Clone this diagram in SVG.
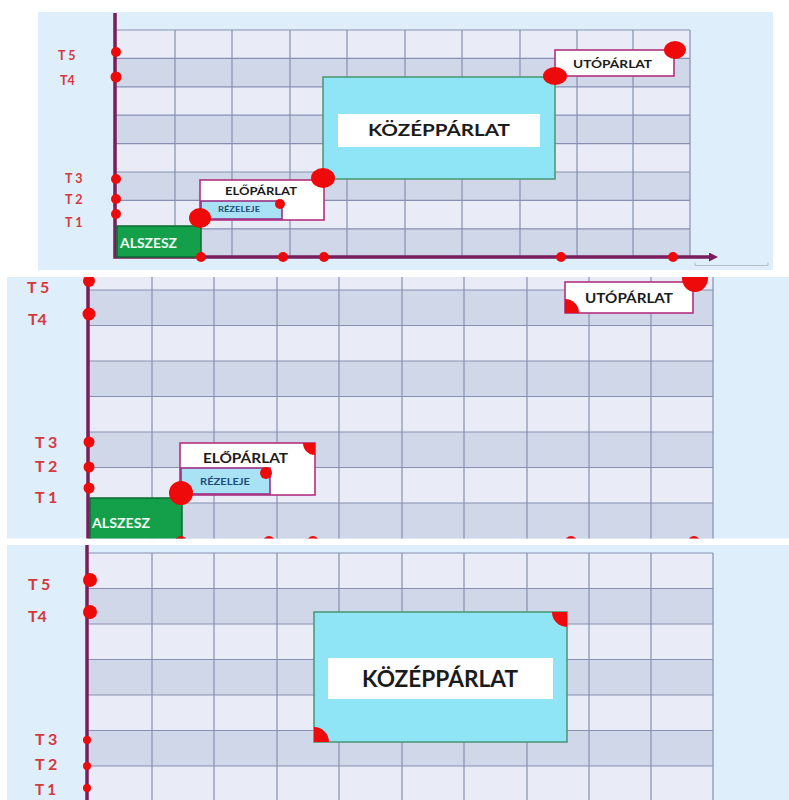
<svg xmlns="http://www.w3.org/2000/svg" width="789" height="800" viewBox="0 0 789 800">
  <defs>
    <style>
      .bg{fill:#deeefa}
      .rowL{fill:#e9ecf6}
      .rowD{fill:#cfd7e9}
      .grid{stroke:#8790b2;stroke-width:1.2;fill:none}
      .axis{stroke:#7a1d5c;stroke-width:3.5;fill:none}
      .dot{fill:#ee0a0a}
      .tl{font-family:Lato,"Open Sans",sans-serif;font-weight:bold;fill:#d6383c}
      .lbl{font-family:Lato,"Open Sans",sans-serif;font-weight:bold;fill:#1b1b1b}
      .als{fill:#14a04a;stroke:#0d6a32;stroke-width:1.5}
      .alst{font-family:Lato,"Open Sans",sans-serif;font-weight:bold;fill:#f0fbf2}
      .frac{fill:#ffffff;stroke:#b3307f;stroke-width:1.6}
      .rez{fill:#a9e2f5;stroke:#9b2f86;stroke-width:1.6}
      .rezt{font-family:Lato,"Open Sans",sans-serif;font-weight:bold;fill:#1f4c78}
      .kozep{fill:#8fe4f6;stroke:#4f9a78;stroke-width:1.6}
      .inner{fill:#ffffff}
      .thin{stroke:#b8bcc8;stroke-width:1;fill:none}
    </style>
    <marker id="arrow" markerUnits="userSpaceOnUse" markerWidth="9" markerHeight="9" refX="0" refY="4.5" orient="auto">
      <path d="M0,0 L9,4.5 L0,9 z" fill="#7a1d5c"/>
    </marker>
    <clipPath id="clipMid"><rect x="7" y="277" width="782" height="261.5"/></clipPath>
    <clipPath id="clipBot"><rect x="7" y="545" width="782" height="255"/></clipPath>
    <clipPath id="clipEloMid"><rect x="180" y="443" width="135" height="52"/></clipPath>
    <clipPath id="clipUtoMid"><rect x="565" y="282" width="128" height="31"/></clipPath>
    <clipPath id="clipKozBot"><rect x="314" y="612" width="253" height="130"/></clipPath>
  </defs>

  <rect width="789" height="800" fill="#ffffff"/>

  <!-- ===== Panel 1: full overview ===== -->
  <g id="panel-top">
    <rect class="bg" x="38" y="12" width="735" height="258"/>
    <g id="grid-top">
      <rect class="rowL" x="115" y="30" width="575" height="227"/>
      <rect class="rowD" x="115" y="58.4" width="575" height="28.4"/>
      <rect class="rowD" x="115" y="115.2" width="575" height="28.4"/>
      <rect class="rowD" x="115" y="172" width="575" height="28.4"/>
      <rect class="rowD" x="115" y="228.8" width="575" height="28.4"/>
      <path class="grid" d="M115,30H690M115,58.4H690M115,86.8H690M115,115.2H690M115,143.6H690M115,172H690M115,200.4H690M115,228.8H690
        M175,30V257M232,30V257M290,30V257M347,30V257M405,30V257M462,30V257M520,30V257M577,30V257M633,30V257M690,30V257"/>
      <path class="thin" d="M695,262.5V265.5H768V262.5"/>
    </g>

    <g id="axes-top">
      <path class="axis" d="M115,13V257H709" marker-end="url(#arrow)"/>
    </g>

    <g id="labels-top">
      <text class="tl" x="58" y="60" font-size="12.5">T 5</text>
      <text class="tl" x="60" y="85" font-size="12.5">T4</text>
      <text class="tl" x="65" y="183" font-size="12.5">T 3</text>
      <text class="tl" x="65" y="204" font-size="12.5">T 2</text>
      <text class="tl" x="65" y="227" font-size="12.5">T 1</text>
    </g>

    <g id="alszesz-top">
      <rect class="als" x="117" y="226" width="84" height="31"/>
      <text class="alst" x="120" y="248" font-size="13" textLength="57" lengthAdjust="spacingAndGlyphs">ALSZESZ</text>
    </g>
    <g id="eloparlat-top">
      <rect class="frac" x="200" y="180" width="124" height="40"/>
      <text class="lbl" x="225" y="195" font-size="11" textLength="72" lengthAdjust="spacingAndGlyphs">ELŐPÁRLAT</text>
    </g>
    <g id="rezeleje-top">
      <rect class="rez" x="201" y="201" width="81" height="18"/>
      <text class="rezt" x="218" y="212" font-size="7" textLength="42" lengthAdjust="spacingAndGlyphs">RÉZELEJE</text>
    </g>
    <g id="kozepparlat-top">
      <rect class="kozep" x="323" y="77" width="232" height="102"/>
      <rect class="inner" x="338" y="114" width="202" height="33"/>
      <text class="lbl" x="368" y="136" font-size="17" textLength="142" lengthAdjust="spacingAndGlyphs">KÖZÉPPÁRLAT</text>
    </g>
    <g id="utoparlat-top">
      <rect class="frac" x="555" y="50" width="119" height="26"/>
      <text class="lbl" x="573" y="68" font-size="12" textLength="79" lengthAdjust="spacingAndGlyphs">UTÓPÁRLAT</text>
    </g>

    <g id="points-top">
      <circle class="dot" cx="116" cy="52" r="5"/>
      <circle class="dot" cx="116" cy="77" r="5.5"/>
      <circle class="dot" cx="116" cy="179" r="5"/>
      <circle class="dot" cx="116" cy="199" r="5"/>
      <circle class="dot" cx="116" cy="214" r="5"/>
      <circle class="dot" cx="201" cy="257" r="5"/>
      <circle class="dot" cx="283" cy="257" r="5"/>
      <circle class="dot" cx="324" cy="257" r="5"/>
      <circle class="dot" cx="561" cy="257" r="5"/>
      <circle class="dot" cx="673" cy="257" r="5"/>
      <circle class="dot" cx="280" cy="204" r="5"/>
      <ellipse class="dot" cx="200" cy="218" rx="11" ry="10"/>
      <ellipse class="dot" cx="323" cy="178" rx="12" ry="10"/>
      <ellipse class="dot" cx="555" cy="76" rx="12" ry="9"/>
      <ellipse class="dot" cx="675" cy="50" rx="11" ry="9"/>
    </g>
  </g>

  <!-- ===== Panel 2: lower and upper fractions ===== -->
  <g id="panel-mid" clip-path="url(#clipMid)">
    <rect class="bg" x="7" y="277" width="782" height="262"/>
    <g id="grid-mid">
      <rect class="rowL" x="88" y="277" width="625" height="262"/>
      <rect class="rowD" x="88" y="290" width="625" height="35.5"/>
      <rect class="rowD" x="88" y="361" width="625" height="35.5"/>
      <rect class="rowD" x="88" y="432" width="625" height="35.5"/>
      <rect class="rowD" x="88" y="503" width="625" height="36"/>
      <path class="grid" d="M88,290H713M88,325.5H713M88,361H713M88,396.5H713M88,432H713M88,467.5H713M88,503H713
        M152,277V539M214,277V539M277,277V539M339,277V539M402,277V539M464,277V539M527,277V539M589,277V539M651,277V539M713,277V539"/>
    </g>

    <g id="axes-mid">
      <path class="axis" d="M88,277V540"/>
    </g>

    <g id="labels-mid">
      <text class="tl" x="27" y="293" font-size="16">T 5</text>
      <text class="tl" x="28" y="325" font-size="16">T4</text>
      <text class="tl" x="35" y="448" font-size="16">T 3</text>
      <text class="tl" x="35" y="472" font-size="16">T 2</text>
      <text class="tl" x="35" y="503" font-size="16">T 1</text>
    </g>

    <g id="alszesz-mid">
      <rect class="als" x="90" y="498" width="92" height="45"/>
      <text class="alst" x="92" y="528" font-size="14" textLength="58" lengthAdjust="spacingAndGlyphs">ALSZESZ</text>
    </g>
    <g id="eloparlat-mid">
      <rect class="frac" x="180" y="443" width="135" height="52"/>
      <text class="lbl" x="203" y="463" font-size="14" textLength="85" lengthAdjust="spacingAndGlyphs">ELŐPÁRLAT</text>
      <circle class="dot" cx="315" cy="443" r="12" clip-path="url(#clipEloMid)"/>
    </g>
    <g id="rezeleje-mid">
      <rect class="rez" x="181" y="468" width="89" height="26"/>
      <text class="rezt" x="200" y="485" font-size="9" textLength="50" lengthAdjust="spacingAndGlyphs">RÉZELEJE</text>
    </g>
    <g id="utoparlat-mid">
      <rect class="frac" x="565" y="282" width="128" height="31"/>
      <text class="lbl" x="585" y="303" font-size="14" textLength="88" lengthAdjust="spacingAndGlyphs">UTÓPÁRLAT</text>
      <circle class="dot" cx="565" cy="313" r="14" clip-path="url(#clipUtoMid)"/>
    </g>

    <g id="points-mid">
      <circle class="dot" cx="89" cy="281" r="6"/>
      <circle class="dot" cx="89" cy="314" r="6.5"/>
      <circle class="dot" cx="89" cy="442" r="5.5"/>
      <circle class="dot" cx="89" cy="467" r="5.5"/>
      <circle class="dot" cx="89" cy="488" r="5.5"/>
      <circle class="dot" cx="266" cy="473" r="6"/>
      <circle class="dot" cx="181" cy="493" r="12"/>
      <ellipse class="dot" cx="695" cy="278" rx="13" ry="14"/>
      <circle class="dot" cx="181" cy="542" r="6"/>
      <circle class="dot" cx="269" cy="542" r="6"/>
      <circle class="dot" cx="313" cy="542" r="6"/>
      <circle class="dot" cx="571" cy="542" r="6"/>
      <circle class="dot" cx="694" cy="542" r="6"/>
    </g>
  </g>

  <!-- ===== Panel 3: heart fraction ===== -->
  <g id="panel-bot" clip-path="url(#clipBot)">
    <rect class="bg" x="7" y="545" width="782" height="255"/>
    <g id="grid-bot">
      <rect class="rowL" x="88" y="553" width="625" height="247"/>
      <rect class="rowD" x="88" y="588.5" width="625" height="35.5"/>
      <rect class="rowD" x="88" y="659.5" width="625" height="35.5"/>
      <rect class="rowD" x="88" y="730.5" width="625" height="35.5"/>
      <path class="grid" d="M88,553H713M88,588.5H713M88,624H713M88,659.5H713M88,695H713M88,730.5H713M88,766H713
        M152,553V800M214,553V800M277,553V800M339,553V800M402,553V800M464,553V800M527,553V800M589,553V800M651,553V800M713,553V800"/>
    </g>

    <g id="axes-bot">
      <path class="axis" d="M87,545V800"/>
    </g>

    <g id="labels-bot">
      <text class="tl" x="28" y="590" font-size="16">T 5</text>
      <text class="tl" x="28" y="622" font-size="16">T4</text>
      <text class="tl" x="35" y="745" font-size="16">T 3</text>
      <text class="tl" x="35" y="770" font-size="16">T 2</text>
      <text class="tl" x="35" y="795" font-size="15">T 1</text>
    </g>

    <g id="kozepparlat-bot">
      <rect class="kozep" x="314" y="612" width="253" height="130"/>
      <rect class="inner" x="328" y="658" width="225" height="41"/>
      <text class="lbl" x="362" y="687" font-size="22" textLength="156" lengthAdjust="spacingAndGlyphs">KÖZÉPPÁRLAT</text>
      <circle class="dot" cx="567" cy="612" r="15" clip-path="url(#clipKozBot)"/>
      <circle class="dot" cx="314" cy="742" r="15" clip-path="url(#clipKozBot)"/>
    </g>

    <g id="points-bot">
      <circle class="dot" cx="90" cy="580" r="7"/>
      <circle class="dot" cx="90" cy="612" r="7"/>
      <circle class="dot" cx="87" cy="740" r="4"/>
      <circle class="dot" cx="87" cy="766" r="4"/>
      <circle class="dot" cx="87" cy="788" r="4"/>
    </g>
  </g>
</svg>
